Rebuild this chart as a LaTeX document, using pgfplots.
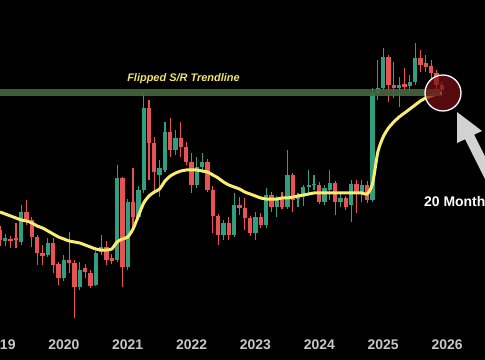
\documentclass[border=0pt]{standalone}
\usepackage{pgfplots}
\pgfplotsset{compat=1.18}
\usepackage{pgfplotstable}
\usepackage{fontspec}
\setmainfont{Liberation Sans}
\definecolor{cgreen}{RGB}{50,158,128}
\definecolor{cred}{RGB}{232,82,82}
\definecolor{maline}{RGB}{250,236,112}
\definecolor{bandc}{RGB}{70,104,60}
\definecolor{circ}{RGB}{120,18,22}
\definecolor{ticklab}{RGB}{200,200,200}
\definecolor{titletext}{RGB}{240,228,110}
\definecolor{arrowc}{RGB}{210,210,210}

% values are pixel rows measured from the top of the picture (360 = bottom)
\pgfplotstableread{
i o h l c
1 241 234 246 238
4 242 205 245 212
9 255 238 257 243
12 278 255 281 260
15 287 262 290 270
18 285 251 286 253
19 252 235 255 247
22 260 165 262 178
24 267 199 270 202
26 217 186 220 190
27 190 92 193 108
30 175 160 197 168
31 170 122 172 132
33 150 130 155 138
37 185 157 188 167
38 167 153 173 162
42 235 220 240 223
44 235 193 237 205
48 233 212 240 217
50 225 188 228 195
52 207 196 217 198
54 207 150 209 175
56 199 193 207 196
57 197 185 206 187
58 187 170 193 185.5
59 185.5 175 190 184
61 202 185 205 188
62 190 170 200 183
64 202 192 207 198
66 205 180 222 184
68 193 180 202 185
70 200 88 202 93
71 93 60 100 88
72 88 48 90 57
75 88 77 107 85.5
77 86 75 92 82
78 82 43 85 58
}\greencandles

\pgfplotstableread{
i o h l c
0 230 226 246 240
2 239 236 248 241
3 238 223 248 240
5 212 200 225 220
6 220 217 247 237
7 237 235 265 253
8 253 245 265 256
10 243 238 273 265
11 264 262 285 278
13 260 232 273 263
14 263 260 318 287
16 268 264 278 272
17 273 270 288 286
20 247 241 265 260
21 258 254 264 261
23 178 177 287 267
25 202 168 227 217
28 108 100 180 143
29 143 137 190 172
32 132 118 157 150
34 138 122 157 147
35 147 142 165 162
36 162 153 193 185
39 162 159 192 190
40 190 186 233 216
41 216 214 245 235
43 223 217 240 235
45 205 197 215 208
46 208 198 230 218
47 218 216 236 233
49 217 213 228 225
51 195 192 212 207
53 198 192 209 207
55 175 173 212 200
60 185 182 204 202
63 183 181 215 202
65 198 196 210 207
67 184 180 213 193
69 185 181 203 200
73 57 55 102 85
74 85 62 98 88
76 84 68 90 87
79 58 50 72 65
80 63 55 72 67
81 66 60 80 73
82 73 70 92 85
83 85 82 96 90
}\redcandles

\pgfplotstableread{
i ma
0 212
1 214
2 216
3 218
4 220
5 221
6 223
7 226
8 228
9 231
10 234
11 237
12 239
13 241
14 242
15 243
16 245
17 247
18 249
19 250
20 250
21 249
22 242
23 239
24 237
25 229
26 216
27 203
28 196
29 192
30 189
31 181
32 176
33 173
34 171
35 170
36 170
37 170
38 171
39 172
40 175
41 178
42 182
43 185
44 187
45 189
46 192
47 194
48 196
49 198
50 199
51 199
52 199
53 198
54 198
55 197
56 196
57 195
58 194
59 193
60 193
61 193
62 193
63 193
64 193
65 193
66 193
67 193
68 193
69 194
70 184
71 152
72 137
73 128
74 122
75 117
76 113
77 109
78 105
79 101
80 98
81 96
82 94
83 93
}\matable

\begin{document}
\begin{tikzpicture}
\useasboundingbox (0,0) rectangle (485bp,360bp);
\clip (0,0) rectangle (485bp,360bp);
\fill[black] (0,0) rectangle (485bp,360bp);
\begin{axis}[
  at={(0,0)}, anchor=origin,
  scale only axis, width=485bp, height=360bp,
  xmin=-0.04, xmax=91.1, ymin=0, ymax=360,
  axis line style={draw=none},
  major tick length=0pt,
  ytick=\empty,
  xtick={0,12,24,36,48,60,72,84},
  xticklabels={2019,2020,2021,2022,2023,2024,2025,2026},
  xticklabel style={anchor=base, yshift=11bp, text=ticklab,
    font=\bfseries\fontsize{14}{16}\selectfont},
  clip=true,
]
% wicks
\addplot[draw=none, forget plot, error bars/.cd, y dir=plus, y explicit,
  error mark=none, error bar style={draw=cgreen, line width=1.1bp}]
  table[x=i, y expr=360-\thisrow{l}, y error plus expr=\thisrow{l}-\thisrow{h}] {\greencandles};
\addplot[draw=none, forget plot, error bars/.cd, y dir=plus, y explicit,
  error mark=none, error bar style={draw=cred, line width=1.1bp}]
  table[x=i, y expr=360-\thisrow{l}, y error plus expr=\thisrow{l}-\thisrow{h}] {\redcandles};
% bodies
\addplot[draw=none, forget plot, error bars/.cd, y dir=plus, y explicit,
  error mark=none, error bar style={draw=cgreen, line width=4.3bp}]
  table[x=i, y expr=360-\thisrow{o}, y error plus expr=\thisrow{o}-\thisrow{c}] {\greencandles};
\addplot[draw=none, forget plot, error bars/.cd, y dir=plus, y explicit,
  error mark=none, error bar style={draw=cred, line width=4.3bp}]
  table[x=i, y expr=360-\thisrow{c}, y error plus expr=\thisrow{c}-\thisrow{o}] {\redcandles};
% 20-month moving average
\addplot[maline, line width=3bp, no marks, smooth, tension=0.4]
  table[x=i, y expr=360-\thisrow{ma}] {\matable};
% flipped S/R band
\addplot[bandc, line width=7bp, no marks, opacity=0.9]
  coordinates {(-2,267.5) (82.7,267.5)};
\end{axis}
\begin{scope}[x=1bp, y=-1bp, yshift=360bp]
\draw[white, line width=1.3bp, fill=circ, fill opacity=0.72] (443,93) circle[radius=18bp];
\fill[arrowc] (457,112) -- (482,131) -- (474.1,134.7) -- (501,188) -- (492,193)
  -- (465.1,139.3) -- (457,143) -- cycle;
\node[anchor=base, inner sep=0, text=titletext,
  font=\bfseries\itshape\fontsize{11}{13}\selectfont] at (183.5,82) {Flipped S/R Trendline};
\node[anchor=base west, inner sep=0, text=white,
  font=\bfseries\fontsize{14}{16}\selectfont] at (424,207) {20 Month};
\end{scope}
\end{tikzpicture}
\end{document}
